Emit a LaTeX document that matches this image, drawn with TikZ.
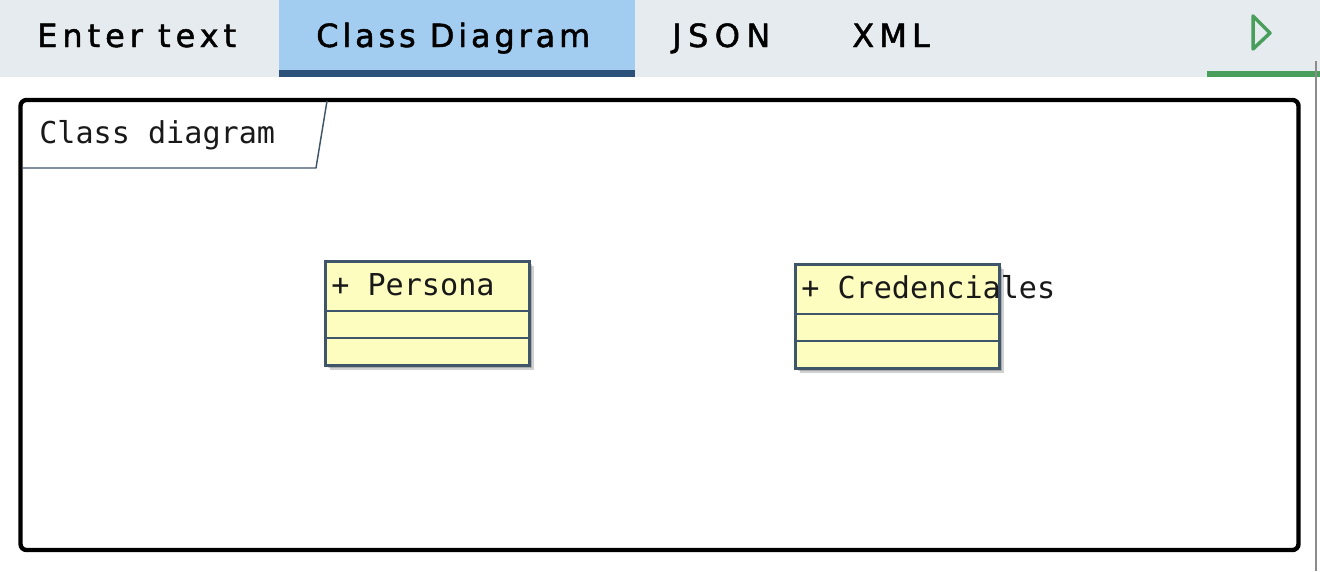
\documentclass[tikz,border=0pt]{standalone}
\usepackage{fontspec}
\setmainfont{DejaVu Sans}
\newfontfamily\tabfont[FakeBold=1.5]{DejaVu Sans}
\newfontfamily\umlfont{DejaVu Sans Mono}
\definecolor{barbg}{HTML}{E6EBEF}
\definecolor{tabsel}{HTML}{A3CDF0}
\definecolor{tabline}{HTML}{2B5079}
\definecolor{playgreen}{HTML}{4A9E5C}
\definecolor{umlline}{HTML}{3F566A}
\definecolor{umlfill}{HTML}{FEFDC0}
\begin{document}
\begin{tikzpicture}[x=0.75pt,y=-0.75pt,
  tabtext/.style={anchor=base west,inner sep=0pt,font=\tabfont\fontsize{24pt}{28pt}\selectfont,text=black},
  monotext/.style={anchor=base west,inner sep=0pt,font=\umlfont\fontsize{22.6pt}{26pt}\selectfont,text=black!90},
  classbox/.style={draw=umlline,fill=umlfill,line width=2pt,anchor=north west,inner sep=0pt,minimum width=153pt,minimum height=78pt},
  shadowbox/.style={fill=black,opacity=0.18,anchor=north west,inner sep=0pt,minimum width=153pt,minimum height=78pt},
  divider/.style={draw=umlline,line width=2pt}]
\useasboundingbox (0,0) rectangle (1320,571);
\fill[white] (0,0) rectangle (1320,571);
% top bar
\fill[barbg] (0,0) rectangle (1320,77);
\fill[tabsel] (279,0) rectangle (635,77);
\fill[tabline] (279,70) rectangle (635,77);
\fill[playgreen] (1207,71) rectangle (1320,77);
\draw[black!45,line width=1.2pt] (1316,61) -- (1316,571);
\node[tabtext] (t1) at (37,47) {\addfontfeature{LetterSpace=15.5}Enter text};
\node[tabtext] (t2) at (316,47) {\addfontfeature{LetterSpace=12}Class Diagram};
\node[tabtext] (t3) at (672,47) {\addfontfeature{LetterSpace=20}JSON};
\node[tabtext] (t4) at (852,47) {\addfontfeature{LetterSpace=16}XML};
\draw[playgreen,line width=2.6pt,line join=round] (1253,16) -- (1270,33) -- (1253,49) -- cycle;
% frame
\draw[black,line width=3.3pt,rounded corners=4.5pt] (20.5,100) rectangle (1298.5,550);
\draw[umlline,line width=1.1pt] (22,168) -- (316,168) -- (327,101);
\node[monotext] (lbl) at (39,143) {Class diagram};
% Persona
\node[shadowbox] (ps1) at (326,262) {};
\node[shadowbox] (ps2) at (328,264) {};
\node[shadowbox] (ps3) at (330,266) {};
\node[classbox] (persona) at (324,260) {};
\draw[divider] (persona.west |- 0,311) -- (persona.east |- 0,311);
\draw[divider] (persona.west |- 0,338) -- (persona.east |- 0,338);
\node[monotext] (pt) at (331,295) {+ Persona};
% Credenciales
\node[shadowbox] (cs1) at (796,265) {};
\node[shadowbox] (cs2) at (798,267) {};
\node[shadowbox] (cs3) at (800,269) {};
\node[classbox] (cred) at (794,263) {};
\draw[divider] (cred.west |- 0,314) -- (cred.east |- 0,314);
\draw[divider] (cred.west |- 0,341) -- (cred.east |- 0,341);
\node[monotext] (ct) at (801,298) {+ Credenciales};
\end{tikzpicture}
\end{document}
